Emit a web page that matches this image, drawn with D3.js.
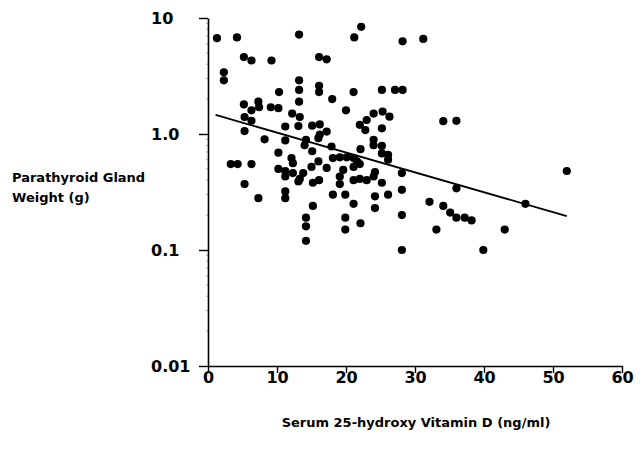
<!DOCTYPE html>
<html>
<head>
<meta charset="utf-8">
<script src="https://cdn.jsdelivr.net/npm/d3@7"></script>
<style>
  body { margin: 0; background: #fff; }
  svg { font-family: "DejaVu Sans", "Liberation Sans", Arial, sans-serif; }
</style>
</head>
<body>
<div id="chart"></div>
<script>
// serum 25-OH vitamin D (ng/ml) and gland weight (g)
var vitD = [1.3, 4.2, 13.2, 21.2, 22.2, 28.2, 31.2, 5.2, 6.3, 9.2, 16.1, 17.2,
  2.3, 2.3, 13.2, 13.2, 10.3, 16.1, 16.1, 18.0, 21.1, 25.2, 27.1, 28.2,
  5.2, 6.3, 7.3, 7.4, 9.1, 10.2, 13.2, 12.2, 13.3, 20.0, 5.3, 6.3,
  11.2, 13.1, 15.1, 16.2, 5.3, 24.0, 25.3, 26.3, 23.0, 22.0, 22.8, 25.2,
  34.1, 36.0, 16.2, 17.2,
  8.2, 11.2, 14.2, 14.0, 16.0, 15.1, 17.9, 10.2, 12.1, 3.3, 4.3, 6.3,
  10.2, 11.2, 12.3, 12.3, 13.8, 15.0, 16.0, 17.2, 18.1, 19.1, 19.6,
  24.0, 24.0, 25.2, 25.2, 26.1, 26.1, 22.1, 20.1, 21.1, 21.6, 22.0, 21.1,
  24.2, 28.1,
  11.2, 13.3, 13.1, 15.2, 16.1, 19.1, 19.1, 21.1, 22.0, 23.0, 24.0, 25.2,
  5.3, 11.2, 11.2, 7.3, 15.2, 18.1, 19.9, 21.1, 24.2, 24.2, 26.1, 28.1,
  32.1, 34.1, 36.0, 46.0, 52.0,
  14.2, 14.2, 14.2, 19.9, 19.9, 22.1, 28.1, 28.1, 35.1, 36.0, 37.2, 38.2,
  33.1, 43.0, 39.9];
var weight = [6.7, 6.8, 7.2, 6.8, 8.4, 6.3, 6.6, 4.6, 4.3, 4.3, 4.6, 4.4,
  3.4, 2.9, 2.9, 2.4, 2.3, 2.6, 2.3, 2.0, 2.3, 2.4, 2.4, 2.4,
  1.8, 1.6, 1.9, 1.7, 1.7, 1.67, 1.9, 1.5, 1.4, 1.6, 1.4, 1.3,
  1.16, 1.17, 1.18, 1.21, 1.06, 1.5, 1.56, 1.41, 1.32, 1.2, 1.08, 1.12,
  1.29, 1.3, 0.99, 1.05,
  0.9, 0.88, 0.89, 0.8, 0.92, 0.71, 0.78, 0.69, 0.62, 0.55, 0.55, 0.55,
  0.5, 0.48, 0.56, 0.46, 0.46, 0.52, 0.58, 0.51, 0.62, 0.63, 0.49,
  0.89, 0.8, 0.79, 0.68, 0.66, 0.6, 0.74, 0.63, 0.62, 0.58, 0.55, 0.52,
  0.47, 0.46,
  0.43, 0.41, 0.39, 0.38, 0.4, 0.43, 0.37, 0.4, 0.41, 0.4, 0.43, 0.38,
  0.37, 0.32, 0.28, 0.28, 0.24, 0.3, 0.3, 0.25, 0.29, 0.23, 0.3, 0.33,
  0.26, 0.24, 0.34, 0.25, 0.48,
  0.19, 0.16, 0.12, 0.19, 0.15, 0.17, 0.2, 0.1, 0.21, 0.19, 0.19, 0.18,
  0.15, 0.15, 0.1];

// regression line end points
var fitX = [1.1, 52];
var fitY = [1.46, 0.196];

var xTicks = [0, 10, 20, 30, 40, 50, 60];
var yTicks = [10, 1, 0.1, 0.01];
var yTickLabels = ["10", "1.0", "0.1", "0.01"];

var width = 643, height = 458;

var svg = d3.select("#chart").append("svg")
    .attr("width", width)
    .attr("height", height);

var x = d3.scaleLinear().domain([0, 60]).range([208, 622]);
var y = d3.scaleLog().domain([0.01, 10]).range([366, 18]);

// x axis
var xAxis = svg.append("g")
    .attr("transform", "translate(0," + y(0.01) + ")")
    .call(d3.axisBottom(x).tickValues(xTicks).tickSize(7).tickSizeOuter(0).tickPadding(-1))
    .attr("font-family", "'DejaVu Sans', sans-serif");
xAxis.select(".domain").attr("stroke-width", 1.6);
xAxis.selectAll(".tick line").attr("stroke-width", 1.4);
xAxis.selectAll("text")
    .attr("font-size", 16)
    .attr("font-weight", "bold")
    .attr("fill", "#000");

// minor log ticks, very faint
var minor = [];
[0.01, 0.1, 1].forEach(function(d) {
  for (var k = 2; k < 10; k++) minor.push(d * k);
});
svg.append("g")
  .selectAll("line")
  .data(minor)
  .enter().append("line")
    .attr("x1", x(0) - 2)
    .attr("x2", x(0))
    .attr("y1", function(d) { return y(d); })
    .attr("y2", function(d) { return y(d); })
    .attr("stroke", "#999")
    .attr("stroke-width", 0.8);

// y axis
var yAxis = svg.append("g")
    .attr("transform", "translate(" + x(0) + ",0)")
    .call(d3.axisLeft(y).tickValues(yTicks).tickSize(9).tickSizeOuter(0)
      .tickFormat(function(d, i) { return yTickLabels[i]; }))
    .attr("font-family", "'DejaVu Sans', sans-serif");
yAxis.select(".domain").attr("stroke-width", 1.6);
yAxis.selectAll(".tick line").attr("stroke-width", 1.4);
yAxis.selectAll("text")
    .attr("x", -57)
    .attr("text-anchor", "start")
    .attr("font-size", 16)
    .attr("font-weight", "bold")
    .attr("fill", "#000");

// points
svg.append("g")
  .selectAll("circle")
  .data(vitD)
  .enter().append("circle")
    .attr("cx", function(d) { return x(d); })
    .attr("cy", function(d, i) { return y(weight[i]); })
    .attr("r", 4.1)
    .attr("fill", "#000");

// regression line
svg.append("line")
    .attr("x1", x(fitX[0]))
    .attr("y1", y(fitY[0]))
    .attr("x2", x(fitX[1]))
    .attr("y2", y(fitY[1]))
    .attr("stroke", "#000")
    .attr("stroke-width", 1.8);

// axis titles
svg.append("text")
    .attr("x", 416)
    .attr("y", 427)
    .attr("text-anchor", "middle")
    .attr("font-size", 13)
    .attr("font-weight", "bold")
    .text("Serum 25-hydroxy Vitamin D (ng/ml)");

var yTitle = svg.append("text")
    .attr("x", 12)
    .attr("y", 182)
    .attr("font-size", 13)
    .attr("font-weight", "bold");
yTitle.append("tspan").attr("x", 12).text("Parathyroid Gland");
yTitle.append("tspan").attr("x", 12).attr("dy", 20).text("Weight (g)");
</script>
</body>
</html>
